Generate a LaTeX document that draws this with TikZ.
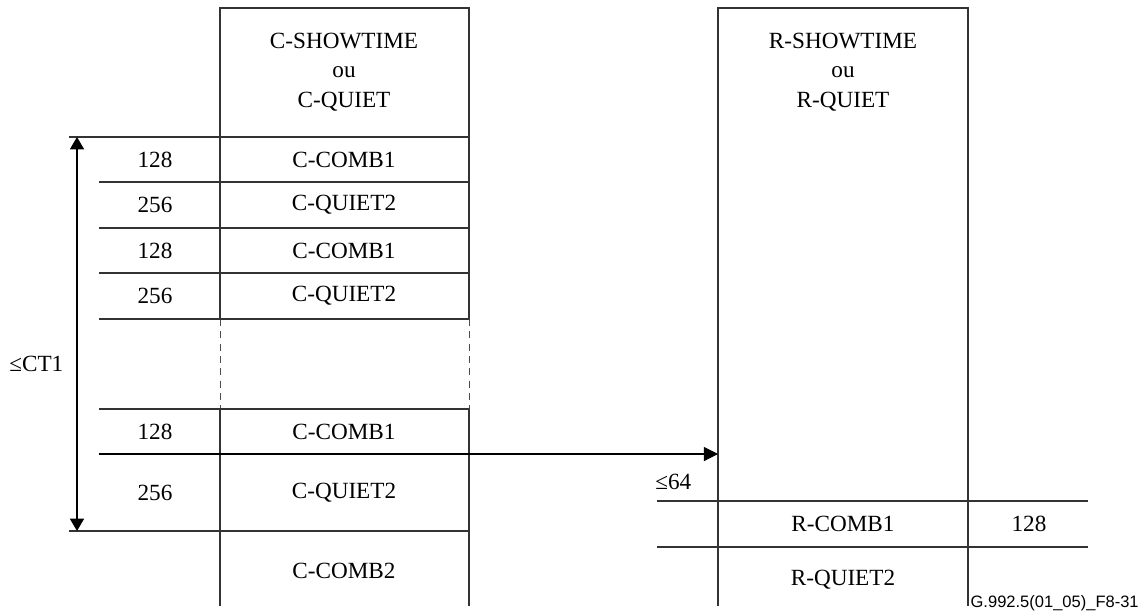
\documentclass[tikz,border=0pt]{standalone}
\usepackage{fontspec}
\setmainfont{Liberation Serif}
\newfontfamily\figfont{Liberation Sans}
\usetikzlibrary{arrows.meta, positioning, calc}

\begin{document}
\begin{tikzpicture}[
    x=0.02cm, y=-0.02cm,
    rule/.style={draw=black!80, line width=0.6pt},
    gapline/.style={draw=black!70, line width=0.5pt, dash pattern=on 4pt off 3pt},
    lbl/.style={inner sep=0pt, align=center, font=\fontsize{13.2}{16.8}\selectfont},
    arrow/.style={-{Triangle[length=8pt, width=8pt]}, draw=black, line width=0.6pt},
    dimarrow/.style={{Triangle[length=7pt, width=8pt]}-{Triangle[length=7pt, width=8pt]}, draw=black, line width=0.6pt}
]
    \useasboundingbox (0,0) rectangle (1142,610);

    % Columns
    \draw[rule] (220,606) -- (220,409) (220,319) -- (220,8) -- (469,8) -- (469,319) (469,409) -- (469,606);
    \draw[gapline] (220,319) -- (220,409) (469,319) -- (469,409);
    \draw[rule] (718,606) -- (718,8) -- (968,8) -- (968,606);

    % Left rows
    \draw[rule] (69,137) -- (469,137);
    \foreach \y in {182,228,273,319,409,454}
        \draw[rule] (99,\y) -- (469,\y);
    \draw[rule] (69,531) -- (469,531);

    % Right rows
    \draw[rule] (657,501) -- (1088,501);
    \draw[rule] (657,547) -- (1088,547);

    % Headers
    \node[lbl] (cHead) at (344,72) {C-SHOWTIME\\ou\\C-QUIET};
    \node[lbl] (rHead) at (843,72) {R-SHOWTIME\\ou\\R-QUIET};

    % Left column labels
    \node[lbl] (cComb1a) at (344,160) {C-COMB1};
    \node[lbl] (cQuiet2a) at (344,205) {C-QUIET2};
    \node[lbl] (cComb1b) at (344,251) {C-COMB1};
    \node[lbl] (cQuiet2b) at (344,296) {C-QUIET2};
    \node[lbl] (cComb1c) at (344,432) {C-COMB1};
    \node[lbl] (cQuiet2c) at (344,493) {C-QUIET2};
    \node[lbl] (cComb2) at (344,571) {C-COMB2};

    \node[lbl] (nA) at (155,160) {128};
    \node[lbl] (nB) at (155,205) {256};
    \node[lbl] (nC) at (155,251) {128};
    \node[lbl] (nD) at (155,296) {256};
    \node[lbl] (nE) at (155,432) {128};
    \node[lbl] (nF) at (155,493) {256};

    % Right column labels
    \node[lbl] (rComb1) at (843,524) {R-COMB1};
    \node[lbl] (rQuiet2) at (843,580) {R-QUIET2};
    \node[lbl] (nR) at (1029,524) {128};

    % Durations
    \coordinate (ctTop) at (77,137);
    \coordinate (ctBot) at (77,531);
    \draw[dimarrow] (ctTop) -- (ctBot);
    \node[lbl, anchor=west] (ct) at (9,364) {≤CT1};

    \coordinate (syncFrom) at (99,454);
    \coordinate (syncTo) at (718,454);
    \draw[arrow] (syncFrom) -- (syncTo);
    \node[lbl, anchor=west] (lim) at (655,482) {≤64};

    % Figure tag
    \node[inner sep=0pt, anchor=east, font=\figfont\fontsize{9.4}{11}\selectfont] (tag) at (1139,603) {G.992.5(01\_05)\_F8-31};

\end{tikzpicture}
\end{document}
